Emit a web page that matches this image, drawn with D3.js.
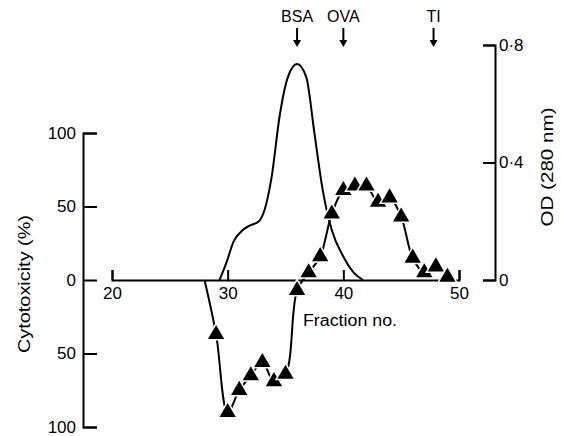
<!DOCTYPE html>
<html>
<head>
<meta charset="utf-8">
<script src="https://cdn.jsdelivr.net/npm/d3@7"></script>
<style>
  body { margin: 0; background: #fff; }
  svg { display: block; }
  text { font-family: "Liberation Sans", Arial, sans-serif; fill: #000; }
</style>
</head>
<body>
<svg id="chart"></svg>
<script>
// cytotoxicity (%) per fraction; the curve leaves the baseline at fraction 28 (no marker there)
const cytoFractions = [28, 29, 30, 31, 32, 33, 34, 35, 36, 37, 38, 39, 40, 41, 42, 43, 44, 45, 46, 47, 48, 49];
const cytoValues = [0, -37, -90, -75, -65, -56, -69, -64, -7, 5, 16, 45, 61, 64, 64, 53, 56, 43, 15, 5, 9, 2];

// OD (280 nm) profile
const odFractions = [29.3, 29.9, 30.5, 31.3, 31.9, 32.7, 33.2, 33.8, 34.5, 35.2, 36.0, 36.8, 37.5, 38.2, 39.0, 40.0, 40.9, 41.7];
const odValues = [0, 0.06, 0.13, 0.17, 0.185, 0.2, 0.24, 0.35, 0.56, 0.69, 0.735, 0.69, 0.5, 0.31, 0.17, 0.08, 0.025, 0];

// marker proteins at the top
const markerNames = ['BSA', 'OVA', 'TI'];
const markerFractions = [36, 40, 47.8];

const xTicks = [20, 30, 40, 50];
const leftTicks = [-100, -50, 0, 50, 100];
const rightTicks = [0, 0.4, 0.8];

const width = 561, height = 436;
const svg = d3.select('#chart').attr('width', width).attr('height', height);

const x = d3.scaleLinear().domain([20, 50]).range([112, 459]);
const yL = d3.scaleLinear().domain([-100, 100]).range([427, 133]);
const yR = d3.scaleLinear().domain([0, 0.8]).range([280, 45]);

function styleAxis(g) {
    g.attr('font-size', 17).attr('font-family', '"Liberation Sans", Arial, sans-serif');
    g.selectAll('path, line').attr('stroke', '#000').attr('stroke-width', 2);
}

// left axis: ticks point right, labels on the left
svg.append('g')
    .attr('transform', 'translate(83,0)')
    .call(d3.axisRight(yL).tickValues(leftTicks).tickSize(14).tickFormat(d => Math.abs(d)))
    .call(styleAxis)
    .call(g => g.selectAll('.tick text').attr('x', -7).attr('text-anchor', 'end'));

// fraction axis on the zero line, ticks pointing up
svg.append('g')
    .attr('transform', `translate(0,${yL(0)})`)
    .call(d3.axisBottom(x).tickValues(xTicks).tickSize(-10).tickPadding(7))
    .call(styleAxis);

// right axis (OD)
svg.append('g')
    .attr('transform', 'translate(495,0)')
    .call(d3.axisLeft(yR).tickValues(rightTicks).tickSize(12)
        .tickFormat(d => d === 0 ? '0' : d3.format('.1f')(d).replace('.', '\u00b7')))
    .call(styleAxis)
    .call(g => g.selectAll('.tick text').attr('x', 4).attr('text-anchor', 'start'));

// OD curve
const odData = odFractions.map((f, i) => ({ f, v: odValues[i] }));
svg.append('path')
    .datum(odData)
    .attr('fill', 'none')
    .attr('stroke', '#000')
    .attr('stroke-width', 2)
    .attr('d', d3.line().x(d => x(d.f)).y(d => yR(d.v)).curve(d3.curveMonotoneX));

// cytotoxicity curve + triangles
const cytoData = cytoFractions.map((f, i) => ({ f, v: cytoValues[i] }));
svg.append('path')
    .datum(cytoData)
    .attr('fill', 'none')
    .attr('stroke', '#000')
    .attr('stroke-width', 2)
    .attr('d', d3.line().x(d => x(d.f)).y(d => yL(d.v)).curve(d3.curveCatmullRom.alpha(0.5)));

const tri = d3.symbol().type(d3.symbolTriangle).size(115);
svg.append('g').selectAll('path')
    .data(cytoData.slice(1))
    .enter()
    .append('path')
    .attr('transform', d => `translate(${x(d.f)},${yL(d.v)})`)
    .attr('d', tri)
    .attr('fill', '#000')
    .attr('stroke', '#fff')
    .attr('stroke-width', 3)
    .attr('paint-order', 'stroke');

// marker labels and arrows
markerNames.forEach((name, i) => {
    const mx = x(markerFractions[i]);
    svg.append('text').attr('x', mx).attr('y', 22).attr('text-anchor', 'middle')
        .attr('font-size', 16).text(name);
    svg.append('line').attr('x1', mx).attr('x2', mx).attr('y1', 28).attr('y2', 41)
        .attr('stroke', '#000').attr('stroke-width', 2);
    svg.append('path').attr('d', `M${mx - 4},40L${mx + 4},40L${mx},47Z`).attr('fill', '#000');
});

// axis titles
svg.append('text').attr('x', 303).attr('y', 326).attr('font-size', 16)
    .attr('textLength', 94).attr('lengthAdjust', 'spacingAndGlyphs').text('Fraction no.');
svg.append('text')
    .attr('transform', 'translate(24,284) rotate(-90)')
    .attr('text-anchor', 'middle').attr('dominant-baseline', 'central')
    .attr('font-size', 17).attr('textLength', 138).attr('lengthAdjust', 'spacingAndGlyphs')
    .text('Cytotoxicity (%)');
svg.append('text')
    .attr('transform', 'translate(547,167) rotate(-90)')
    .attr('text-anchor', 'middle').attr('dominant-baseline', 'central')
    .attr('font-size', 17).attr('textLength', 119).attr('lengthAdjust', 'spacingAndGlyphs')
    .text('OD (280 nm)');
</script>
</body>
</html>
